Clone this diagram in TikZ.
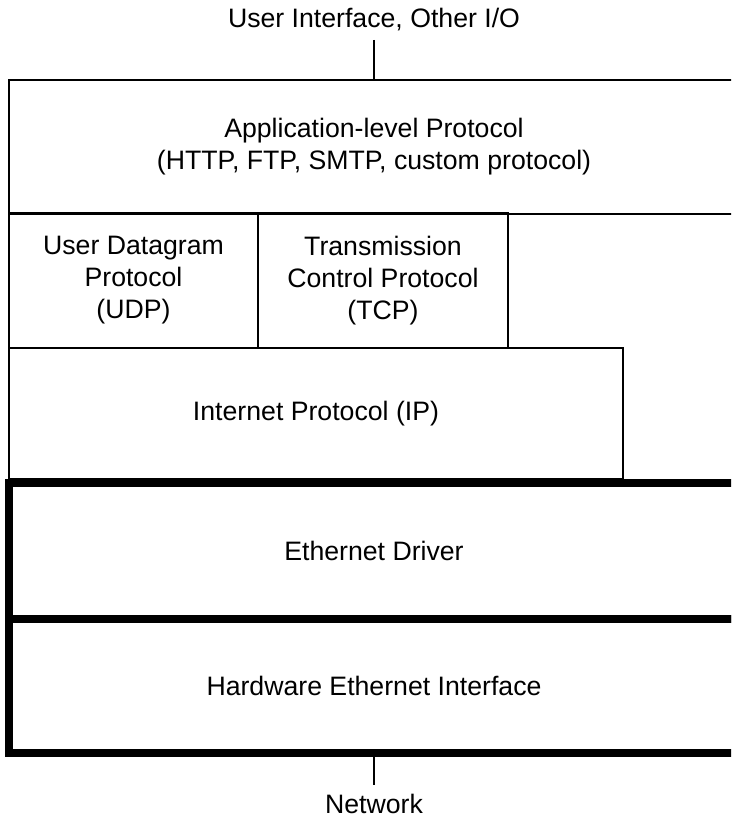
\documentclass[tikz,border=0pt]{standalone}
\usepackage{fontspec}
\setmainfont{Liberation Sans}
\usetikzlibrary{positioning}
\newdimen\px \px=0.75pt
\tikzset{
 stack/.style={font=\fontsize{20}{24}\selectfont,line join=miter},
 layer/.style={draw,line width=1.1pt,align=center,inner sep=0pt,outer sep=0pt,anchor=north west},
 hwlayer/.style={layer,line width=6pt},
 wire/.style={draw,line width=1.1pt},
 caption/.style={inner sep=0pt,outer ysep=9*\px}
}

\begin{document}
\begin{tikzpicture}[stack,x=\px,y=-\px]
 \useasboundingbox (0,0) rectangle (731,820);
 \clip (0,0) rectangle (731,820);
 % software layers
 \node[layer,minimum width=730*\px,minimum height=134*\px] (app) at (9,80)
  {Application-level Protocol\\(HTTP, FTP, SMTP, custom protocol)};
 \node[layer,minimum width=249*\px,minimum height=135*\px] (udp) at (9,213)
  {User Datagram\\Protocol\\(UDP)};
 \node[layer,minimum width=250*\px,minimum height=135*\px] (tcp) at (258,213)
  {Transmission\\Control Protocol\\(TCP)};
 \node[layer,minimum width=614*\px,minimum height=131*\px] (ip) at (9,348)
  {Internet Protocol (IP)};
 % hardware layers
 \node[hwlayer,minimum width=730*\px,minimum height=136*\px] (eth) at (9,483)
  {Ethernet Driver};
 \node[hwlayer,minimum width=730*\px,minimum height=134*\px] (hw) at (9,619)
  {Hardware Ethernet Interface};
 % ends
 \node[caption,above=30pt of app] (ui) {User Interface, Other I/O};
 \node[caption,below=24pt of hw] (net) {Network};
 \draw[wire] (ui) -- (app);
 \draw[wire] (hw) -- (net);
\end{tikzpicture}
\end{document}
